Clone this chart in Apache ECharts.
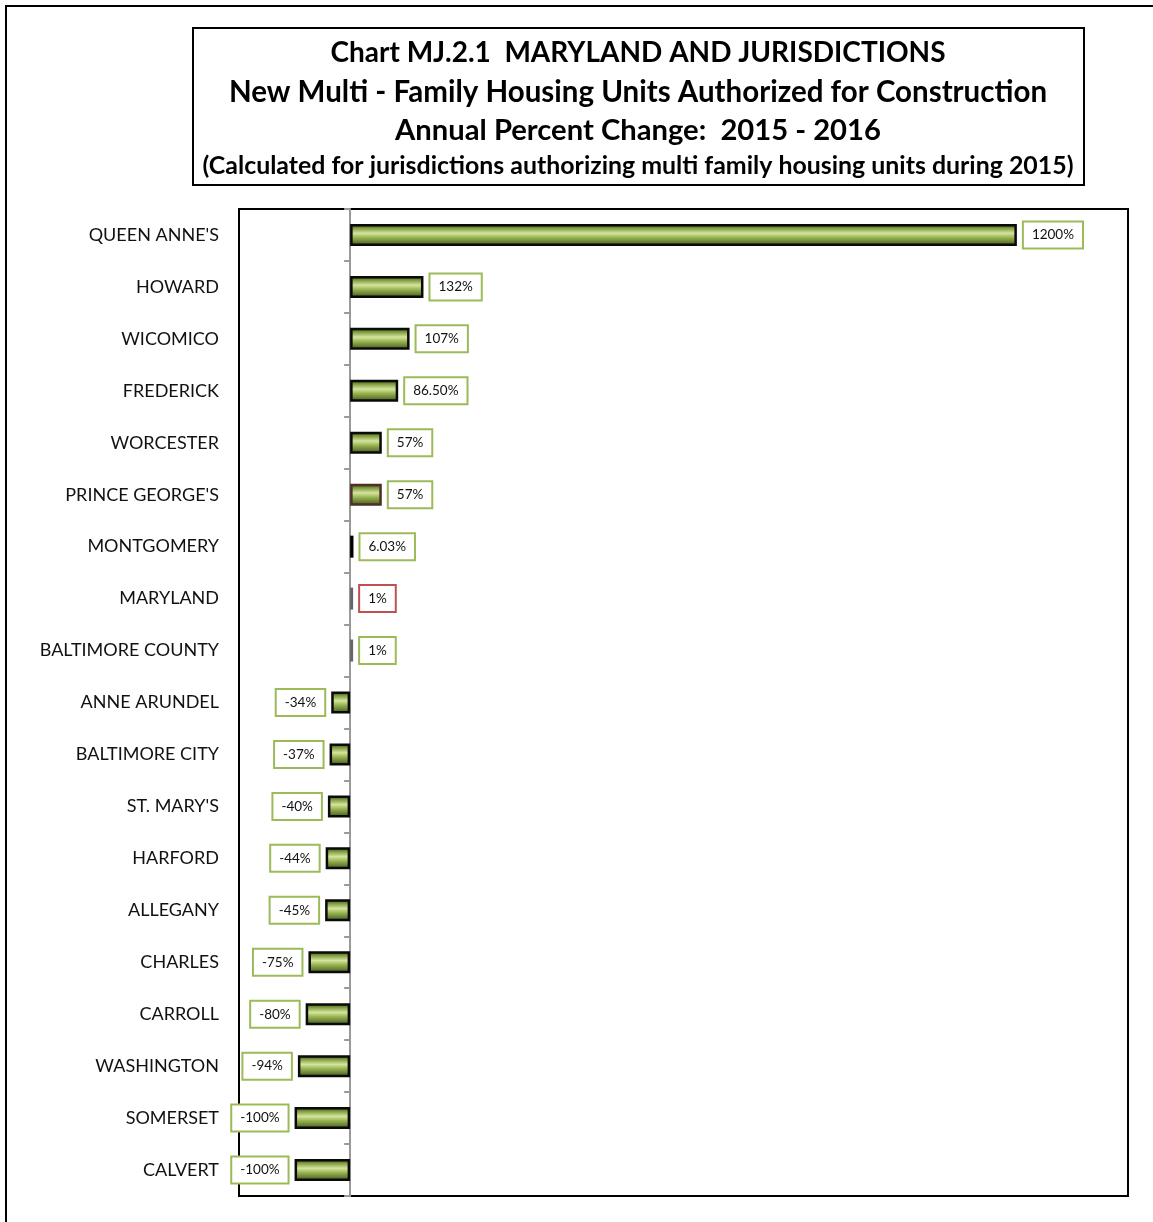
<!DOCTYPE html>
<html>
<head>
<meta charset="utf-8">
<script src="https://cdn.jsdelivr.net/npm/echarts@6/dist/echarts.min.js"></script>
<style>
html,body{margin:0;padding:0;background:#fff;}
#chart{width:1153px;height:1222px;}
</style>
</head>
<body>
<div id="chart"></div>
<script>
const categories = ["QUEEN ANNE'S","HOWARD","WICOMICO","FREDERICK","WORCESTER","PRINCE GEORGE'S","MONTGOMERY","MARYLAND","BALTIMORE COUNTY","ANNE ARUNDEL","BALTIMORE CITY","ST. MARY'S","HARFORD","ALLEGANY","CHARLES","CARROLL","WASHINGTON","SOMERSET","CALVERT"];
const pctChange = [1200,132,107,86.5,57,57,6.03,1,1,-34,-37,-40,-44,-45,-75,-80,-94,-100,-100];
const labelText = ["1200%","132%","107%","86.50%","57%","57%","6.03%","1%","1%","-34%","-37%","-40%","-44%","-45%","-75%","-80%","-94%","-100%","-100%"];
const titleLines = ["Chart MJ.2.1  MARYLAND AND JURISDICTIONS","New Multi - Family Housing Units Authorized for Construction","Annual Percent Change:  2015 - 2016","(Calculated for jurisdictions authorizing multi family housing units during 2015)"];

const FONT = 'Lato';
const green = new echarts.graphic.LinearGradient(0,0,0,1,[
  {offset:0,color:'#303d16'},
  {offset:0.18,color:'#7a983a'},
  {offset:0.42,color:'#d6e49e'},
  {offset:0.62,color:'#97b450'},
  {offset:1,color:'#3f501e'}
]);
function styleFor(name){
  if(name==='MARYLAND' || name==='BALTIMORE COUNTY') return {color:'#777',borderColor:'#666',borderWidth:2};
  if(name==='MONTGOMERY') return {color:'#111',borderColor:'#000',borderWidth:2};
  if(name==="PRINCE GEORGE'S") return {color:green,borderColor:'#4e3026',borderWidth:2.5};
  return {color:green,borderColor:'#0a0a0a',borderWidth:2.5};
}
const data = pctChange.map((v,i)=>({
  value:v,
  itemStyle:styleFor(categories[i]),
  label:{
    show:true,
    position: v>=0 ? 'right':'left',
    distance:7,
    formatter: labelText[i],
    fontFamily:FONT, fontSize:13.5, color:'#111',
    backgroundColor:'#fff',
    borderColor: categories[i]==='MARYLAND' ? '#c0504d' : '#9bbb59',
    borderWidth:2,
    padding:[6,8,5,8]
  }
}));

const chart = echarts.init(document.getElementById('chart'),null,{renderer:'canvas'});
const tx = 638;
chart.setOption({
  backgroundColor:'#fff',
  animation:false,
  grid:{left:239,top:209,right:25,bottom:26,show:true,borderColor:'#000',borderWidth:2,backgroundColor:'transparent'},
  xAxis:{type:'value',min:-200,max:1400,show:false,splitLine:{show:false}},
  yAxis:[
    {type:'category',data:categories,inverse:true,
     axisLine:{show:false,onZero:false},axisTick:{show:false},
     axisLabel:{fontFamily:FONT,fontSize:18,color:'#111',margin:20}},
    {type:'category',data:categories,inverse:true,position:'left',
     axisLine:{show:true,onZero:true,lineStyle:{color:'#999',width:2}},
     axisTick:{show:true,length:6,lineStyle:{color:'#999',width:2}},
     axisLabel:{show:false}}
  ],
  series:[{type:'bar',yAxisIndex:0,data:data,barWidth:22,barMinHeight:3}],
  graphic:[
    {type:'rect',shape:{x:6,y:6,width:1170,height:1240},style:{fill:'none',stroke:'#000',lineWidth:2},silent:true},
    {type:'rect',shape:{x:193,y:28,width:891,height:157},style:{fill:'#fff',stroke:'#000',lineWidth:2},z:10},
    {type:'text',x:tx,y:53,z:11,style:{text:titleLines[0],fontFamily:FONT,fontWeight:'bold',fontSize:28,fill:'#000',align:'center',verticalAlign:'middle'}},
    {type:'text',x:tx,y:92,z:11,style:{text:titleLines[1],fontFamily:FONT,fontWeight:'bold',fontSize:29.5,fill:'#000',align:'center',verticalAlign:'middle'}},
    {type:'text',x:tx,y:131,z:11,style:{text:titleLines[2],fontFamily:FONT,fontWeight:'bold',fontSize:29.2,fill:'#000',align:'center',verticalAlign:'middle'}},
    {type:'text',x:tx,y:166,z:11,style:{text:titleLines[3],fontFamily:FONT,fontWeight:'bold',fontSize:24.9,fill:'#000',align:'center',verticalAlign:'middle'}}
  ]
});
</script>
</body>
</html>
